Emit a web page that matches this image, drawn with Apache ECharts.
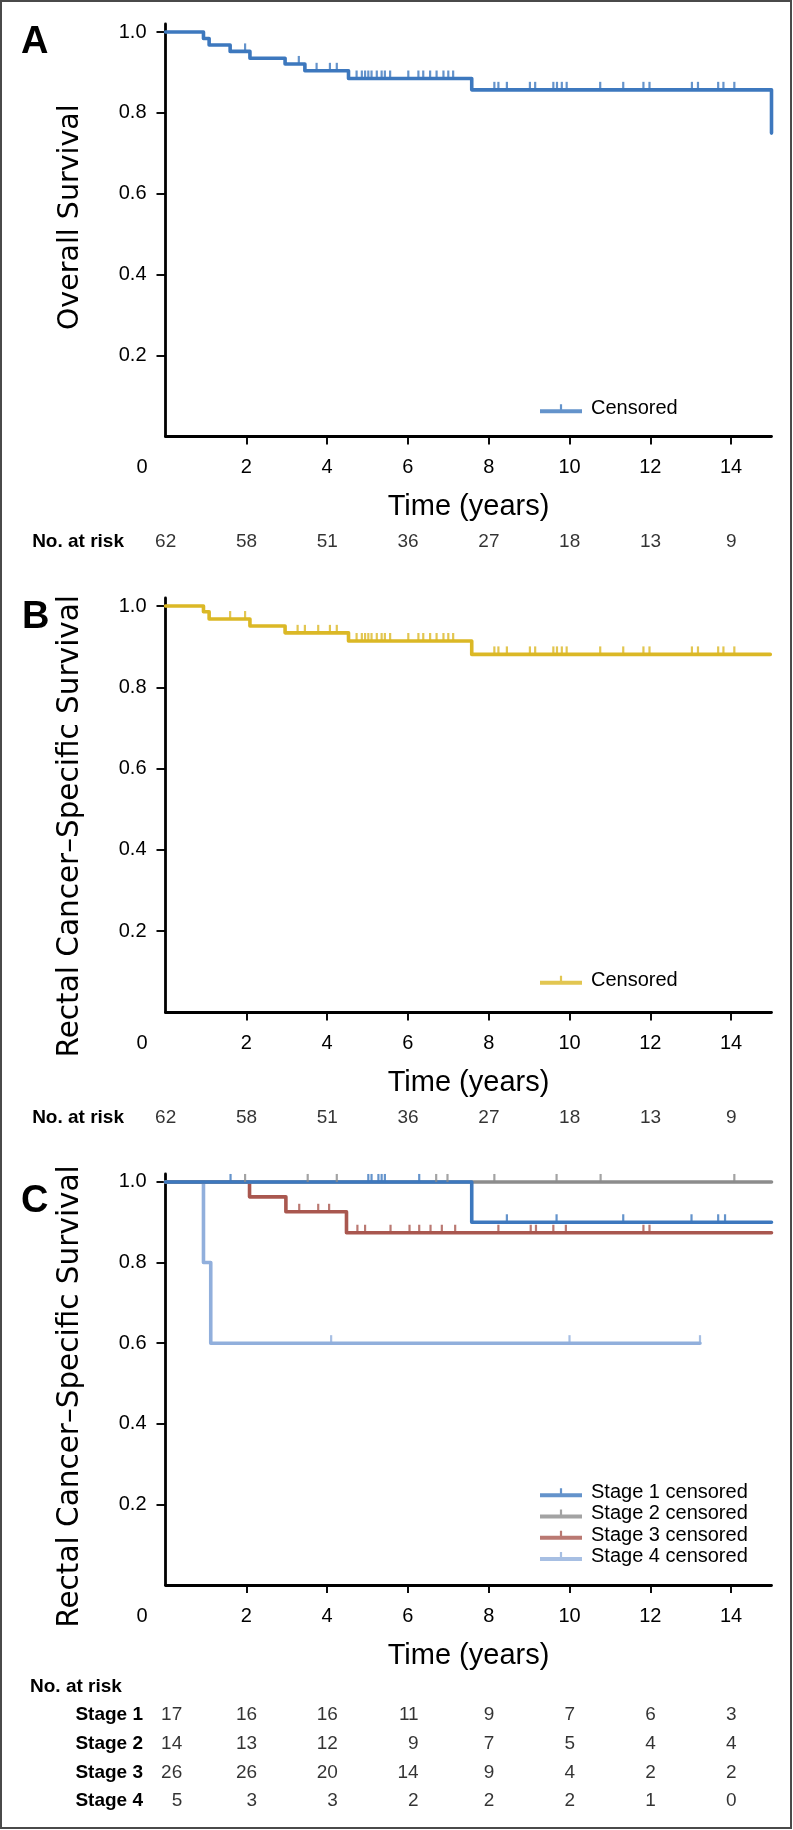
<!DOCTYPE html>
<html><head><meta charset="utf-8">
<script src="https://cdn.jsdelivr.net/npm/echarts@6/dist/echarts.min.js"></script>
<style>html,body{margin:0;padding:0;background:#fff}#c{width:793px;height:1830px}</style>
</head><body><div id="c"></div>
<script>
// ---------------- data ----------------
const xTickValues = [2, 4, 6, 8, 10, 12, 14];
const xLabelValues = [0, 2, 4, 6, 8, 10, 12, 14];
const yTickValues = [0.2, 0.4, 0.6, 0.8, 1.0];

// Panel A: overall survival
const osTimes = [0, 0.94, 1.08, 1.6, 2.09, 2.96, 3.45, 4.53, 7.58, 15];
const osSurv  = [1.0, 0.984, 0.968, 0.952, 0.935, 0.921, 0.904, 0.885, 0.857, 0.75];
const osCensored = [1.97, 3.3, 3.74, 4.07, 4.24, 4.73, 4.86, 4.94, 5.02, 5.1, 5.23, 5.35, 5.43, 5.56,
  6.01, 6.26, 6.38, 6.55, 6.71, 6.88, 7.0, 7.12, 8.14, 8.24, 8.45, 9.02, 9.15, 9.6, 9.69, 9.81, 9.93,
  10.76, 11.33, 11.83, 11.98, 13.03, 13.18, 13.68, 13.81, 14.08];

// Panel B: rectal cancer-specific survival
const cssTimes = [0, 0.94, 1.08, 2.09, 2.96, 4.53, 7.58, 14.97];
const cssSurv  = [1.0, 0.986, 0.968, 0.951, 0.934, 0.914, 0.881, 0.881];
const cssCensored = [1.6, 1.97, 3.27, 3.45, 3.78, 4.07, 4.24, 4.73, 4.86, 4.94, 5.02, 5.1, 5.23, 5.35, 5.43, 5.56,
  6.01, 6.26, 6.38, 6.55, 6.71, 6.88, 7.0, 7.12, 8.14, 8.24, 8.45, 9.02, 9.15, 9.6, 9.69, 9.81, 9.93,
  10.76, 11.33, 11.83, 11.98, 13.03, 13.18, 13.68, 13.81, 14.08];

// Panel C: by stage
const s1Times = [0, 7.58, 15];          const s1Surv = [1.0, 0.9, 0.9];
const s1Censored = [1.61, 5.02, 5.1, 5.27, 5.35, 5.43, 6.28, 8.45, 9.68, 11.33, 13.02, 13.68, 13.85];
const s2Times = [0, 15];                const s2Surv = [1.0, 1.0];
const s2Censored = [1.97, 3.52, 4.24, 6.7, 6.98, 8.14, 9.68, 10.77, 14.08];
const s3Times = [0, 2.08, 2.98, 4.48, 15]; const s3Surv = [1.0, 0.963, 0.926, 0.874, 0.874];
const s3Censored = [3.31, 3.78, 4.05, 4.75, 4.94, 5.57, 6.04, 6.28, 6.56, 6.84, 7.17, 8.24, 9.04, 9.17, 9.6, 9.91, 11.83, 11.98];
const s4Times = [0, 0.94, 1.12, 13.23]; const s4Surv = [1.0, 0.8, 0.6, 0.6];
const s4Censored = [4.1, 10.0, 13.23];

// Numbers at risk
const riskTimes = [0, 2, 4, 6, 8, 10, 12, 14];
const riskAll = [62, 58, 51, 36, 27, 18, 13, 9];
const riskS1 = [17, 16, 16, 11, 9, 7, 6, 3];
const riskS2 = [14, 13, 12, 9, 7, 5, 4, 4];
const riskS3 = [26, 26, 20, 14, 9, 4, 2, 2];
const riskS4 = [5, 3, 3, 2, 2, 2, 1, 0];
const stageLabels = ['Stage 1', 'Stage 2', 'Stage 3', 'Stage 4'];

// ---------------- styles ----------------
const FONT = '"Liberation Sans", Arial, sans-serif';
const NARROW = '"Liberation Sans Narrow", "Arial Narrow", "Liberation Sans", sans-serif';
const YFONT = '"DejaVu Sans", sans-serif';
const INK = '#000';
const C_BLUE = '#3d78be', C_GOLD = '#dbb826', C_GRAY = '#8c8c8c', C_RED = '#a9574f', C_LBLUE = '#91afdc';
const ICON = 'path://M0,5L42,5L42,9L0,9Z M19.9,0L22.1,0L22.1,5L19.9,5Z';

function stepAt(times, surv, t) {
  let v = surv[0];
  for (let i = 0; i < times.length; i++) if (times[i] <= t) v = surv[i];
  return v;
}
function curve(name, times, surv, color, ax, z) {
  return { type: 'line', name, xAxisIndex: ax, yAxisIndex: ax, step: 'end', symbol: 'none', showSymbol: false,
    data: times.map((t, i) => [t, surv[i]]), z, silent: true,
    lineStyle: { color, width: 3.6, cap: 'round', join: 'round' }, itemStyle: { color } };
}
function ticks(name, cens, times, surv, color, ax, z) {
  return { type: 'scatter', name, xAxisIndex: ax, yAxisIndex: ax, symbol: 'rect', symbolSize: [2.2, 8],
    symbolOffset: [0, -4], data: cens.map(t => [t, stepAt(times, surv, t)]), z, silent: true,
    itemStyle: { color } };
}
function riskSeries(ax, rows, off0) {
  const data = [];
  rows.forEach((vals, r) => vals.forEach((v, c) => {
    const maxLen = Math.max(...rows.map(rr => String(rr[c]).length));
    data.push({ value: [riskTimes[c], r, v],
      label: { formatter: '{w' + maxLen + '|' + v + '}', offset: [c === 0 ? off0 : 0, 0] } });
  }));
  const st = { fontSize: 19, fontFamily: FONT, color: INK };
  return { type: 'scatter', xAxisIndex: ax, yAxisIndex: ax, symbolSize: 1, silent: true,
    itemStyle: { color: 'rgba(0,0,0,0)' }, data,
    label: { show: true, position: 'inside', ...st,
      rich: { w1: { width: 11, align: 'right', ...st }, w2: { width: 21.5, align: 'right', ...st } } } };
}

const LEFT = 165.5, WIDTH = 606;
const plotGrids = [
  { left: LEFT, width: WIDTH, top: 23.9, height: 412.6 },
  { left: LEFT, width: WIDTH, top: 597.9, height: 414.6 },
  { left: LEFT, width: WIDTH, top: 1173.9, height: 411.1 }
];
const riskGrids = [
  { left: LEFT, width: WIDTH, top: 527.7, height: 28.67 },
  { left: LEFT, width: WIDTH, top: 1103.7, height: 28.67 },
  { left: LEFT, width: WIDTH, top: 1700.7, height: 114.7 }
];
const axisLineStyle = { color: '#000', width: 2.8 };

function plotX(gi) {
  return { gridIndex: gi, type: 'value', min: 0, max: 15, name: 'Time (years)', nameLocation: 'middle', nameGap: 56,
    nameTextStyle: { fontSize: 29, fontFamily: FONT, color: INK },
    axisLine: { show: true, onZero: false, lineStyle: axisLineStyle },
    axisTick: { show: true, length: 8, customValues: xTickValues, lineStyle: { color: '#000', width: 1.9 } },
    axisLabel: { customValues: xLabelValues, margin: 21, fontSize: 20, fontFamily: FONT, color: INK,
      formatter: v => v === 0 ? '{z|0}' : String(v),
      rich: { z: { padding: [0, 47, 0, 0], fontSize: 20, fontFamily: FONT, color: INK } } },
    splitLine: { show: false } };
}
function plotY(gi, name, size, pad) {
  return { gridIndex: gi, type: 'value', min: 0, max: 1.02, name, nameLocation: 'middle', nameGap: 80, nameRotate: 90,
    nameTextStyle: { fontSize: size, fontFamily: YFONT, color: INK, padding: pad },
    axisLine: { show: true, onZero: false, lineStyle: axisLineStyle },
    axisTick: { show: true, length: 9, customValues: yTickValues, lineStyle: { color: '#000', width: 1.9 } },
    axisLabel: { customValues: yTickValues, margin: 19, fontSize: 20, fontFamily: FONT, color: INK,
      formatter: v => (v > 0.01 && Math.abs(v * 5 - Math.round(v * 5)) < 1e-6) ? v.toFixed(1) : '' },
    splitLine: { show: false } };
}
function riskX(gi) { return { gridIndex: gi, type: 'value', min: 0, max: 15, show: false }; }
function riskY(gi, cats, margin, family) {
  return { gridIndex: gi, type: 'category', data: cats, inverse: true,
    axisLine: { show: false }, axisTick: { show: false }, splitLine: { show: false },
    axisLabel: { margin, fontSize: 19, fontWeight: 'bold', fontFamily: family, color: INK } };
}
function legend(names, top, fmt) {
  return { data: names, orient: 'vertical', left: 540, top, padding: 0, itemGap: 0, icon: ICON,
    itemWidth: 42, itemHeight: 9, selectedMode: false, formatter: fmt,
    itemStyle: { borderWidth: 0 }, lineStyle: { width: 0 },
    textStyle: { fontSize: 20, fontFamily: FONT, color: INK, lineHeight: 21.3, padding: [0, 0, 0, 4] } };
}
const stripPanel = n => n.replace(/^[A-C]: /, '');

const option = {
  backgroundColor: '#fff',
  animation: false,
  grid: plotGrids.concat(riskGrids),
  xAxis: [plotX(0), plotX(1), plotX(2), riskX(3), riskX(4), riskX(5)],
  yAxis: [plotY(0, 'Overall Survival', 28.5, [0, 0, 0, 26]),
    plotY(1, 'Rectal Cancer\u2013Specific Survival', 29.5, [0, 42, 0, 0]),
    plotY(2, 'Rectal Cancer\u2013Specific Survival', 29.5, [0, 34, 0, 0]),
    riskY(3, ['No. at risk'], 41.5, NARROW), riskY(4, ['No. at risk'], 41.5, NARROW),
    riskY(5, stageLabels, 22.5, FONT)],
  legend: [
    legend(['A: Censored'], 398, stripPanel),
    legend(['B: Censored'], 969.5, stripPanel),
    legend(['Stage 1 censored', 'Stage 2 censored', 'Stage 3 censored', 'Stage 4 censored'], 1482, n => n)
  ],
  series: [
    curve('A line', osTimes, osSurv, C_BLUE, 0, 3),
    ticks('A: Censored', osCensored, osTimes, osSurv, C_BLUE, 0, 4),
    curve('B line', cssTimes, cssSurv, C_GOLD, 1, 3),
    ticks('B: Censored', cssCensored, cssTimes, cssSurv, C_GOLD, 1, 4),
    curve('S4 line', s4Times, s4Surv, C_LBLUE, 2, 2),
    curve('S3 line', s3Times, s3Surv, C_RED, 2, 3),
    curve('S2 line', s2Times, s2Surv, C_GRAY, 2, 4),
    curve('S1 line', s1Times, s1Surv, C_BLUE, 2, 5),
    ticks('Stage 4 censored', s4Censored, s4Times, s4Surv, C_LBLUE, 2, 6),
    ticks('Stage 3 censored', s3Censored, s3Times, s3Surv, C_RED, 2, 7),
    ticks('Stage 2 censored', s2Censored, s2Times, s2Surv, C_GRAY, 2, 8),
    ticks('Stage 1 censored', s1Censored, s1Times, s1Surv, C_BLUE, 2, 9),
    riskSeries(3, [riskAll], 0),
    riskSeries(4, [riskAll], 0),
    riskSeries(5, [riskS1, riskS2, riskS3, riskS4], 6)
  ],
  graphic: [
    { type: 'rect', silent: true, shape: { x: 1, y: 1, width: 790, height: 1827 },
      style: { fill: 'none', stroke: '#4a4a4a', lineWidth: 2 } },
    { type: 'text', silent: true, x: 21, y: 42.5, style: { text: 'A', fontSize: 38, fontWeight: 'bold', fontFamily: FONT, fill: '#000', verticalAlign: 'middle' } },
    { type: 'text', silent: true, x: 22, y: 618, style: { text: 'B', fontSize: 38, fontWeight: 'bold', fontFamily: FONT, fill: '#000', verticalAlign: 'middle' } },
    { type: 'text', silent: true, x: 21, y: 1202, style: { text: 'C', fontSize: 38, fontWeight: 'bold', fontFamily: FONT, fill: '#000', verticalAlign: 'middle' } },
    { type: 'text', silent: true, x: 30, y: 1687, style: { text: 'No. at risk', fontSize: 19, fontWeight: 'bold', fontFamily: NARROW, fill: INK, verticalAlign: 'middle' } }
  ]
};
const chart = echarts.init(document.getElementById('c'), null, { renderer: 'canvas', width: 793, height: 1830 });
chart.setOption(option);
</script>
</body></html>
